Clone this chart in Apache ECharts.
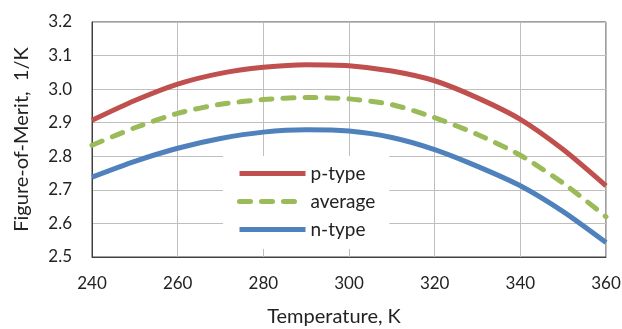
<!DOCTYPE html>
<html>
<head>
<meta charset="utf-8">
<script src="https://cdn.jsdelivr.net/npm/echarts@6/dist/echarts.min.js"></script>
<style>
  html, body { margin: 0; padding: 0; background: #fff; }
  #chart { width: 622px; height: 329px; }
</style>
</head>
<body>
<div id="chart"></div>
<script>
// temperature, K
const temps = [240, 250, 260, 270, 280, 290, 300, 310, 320, 330, 340, 350, 360];
// figure-of-merit, 1/K
const pType = [2.907, 2.966, 3.015, 3.047, 3.065, 3.073, 3.070, 3.054, 3.025, 2.974, 2.910, 2.820, 2.712];
const average = [2.833, 2.885, 2.928, 2.955, 2.969, 2.975, 2.971, 2.954, 2.915, 2.865, 2.803, 2.720, 2.620];
const nType = [2.738, 2.785, 2.824, 2.853, 2.872, 2.879, 2.875, 2.856, 2.820, 2.770, 2.712, 2.635, 2.543];

const font = 'Lato';
const pairs = (ys) => temps.map((t, i) => [t, ys[i]]);

const chart = echarts.init(document.getElementById('chart'));

const option = {
  animation: false,
  textStyle: { fontFamily: font, color: '#222' },
  grid: {
    left: 92, right: 16, top: 22, bottom: 72,
    outerBoundsMode: 'none',
    show: true,
    borderColor: '#404040',
    borderWidth: 1
  },
  legend: {
    orient: 'vertical',
    left: 223,
    top: 156,
    width: 172,
    backgroundColor: '#fff',
    padding: [8, 14, 10, 14],
    itemWidth: 66,
    itemHeight: 14,
    itemGap: 9,
    itemStyle: { opacity: 0 },
    lineStyle: { width: 5 },
    textStyle: { fontFamily: font, fontSize: 19, color: '#222' },
    data: ['p-type', 'average', 'n-type']
  },
  xAxis: {
    type: 'value',
    min: 240, max: 360, interval: 20,
    name: 'Temperature, K',
    nameLocation: 'middle',
    nameGap: 50,
    nameTextStyle: { fontFamily: font, fontSize: 20, color: '#222', padding: [0, 30, 0, 0] },
    axisLine: { show: true, lineStyle: { color: '#404040' } },
    axisTick: { show: false },
    axisLabel: { fontFamily: font, fontSize: 17, color: '#222', margin: 18 },
    splitLine: { show: true, lineStyle: { color: '#bfbfbf' } }
  },
  yAxis: {
    type: 'value',
    min: 2.5, max: 3.2, interval: 0.1,
    name: 'Figure-of-Merit,  1/K',
    nameLocation: 'middle',
    nameGap: 60,
    nameTextStyle: { fontFamily: font, fontSize: 20, color: '#222' },
    axisLine: { show: true, lineStyle: { color: '#404040' } },
    axisTick: { show: false },
    axisLabel: { fontFamily: font, fontSize: 17, color: '#222', margin: 20,
      formatter: (v) => v.toFixed(1) },
    splitLine: { show: true, lineStyle: { color: '#bfbfbf' } }
  },
  series: [
    {
      name: 'p-type', type: 'line', smooth: 0.25, symbol: 'none', z: 3,
      color: '#c0504d',
      lineStyle: { width: 5, color: '#c0504d' },
      data: pairs(pType)
    },
    {
      name: 'average', type: 'line', smooth: 0.25, symbol: 'none', z: 3,
      color: '#9bbb59',
      lineStyle: { width: 5, color: '#9bbb59', type: [11, 11], cap: 'round' },
      data: pairs(average)
    },
    {
      name: 'n-type', type: 'line', smooth: 0.25, symbol: 'none', z: 3,
      color: '#4f81bd',
      lineStyle: { width: 5, color: '#4f81bd' },
      data: pairs(nType)
    }
  ]
};

chart.setOption(option);
window.addEventListener('resize', () => chart.resize());
</script>
</body>
</html>
